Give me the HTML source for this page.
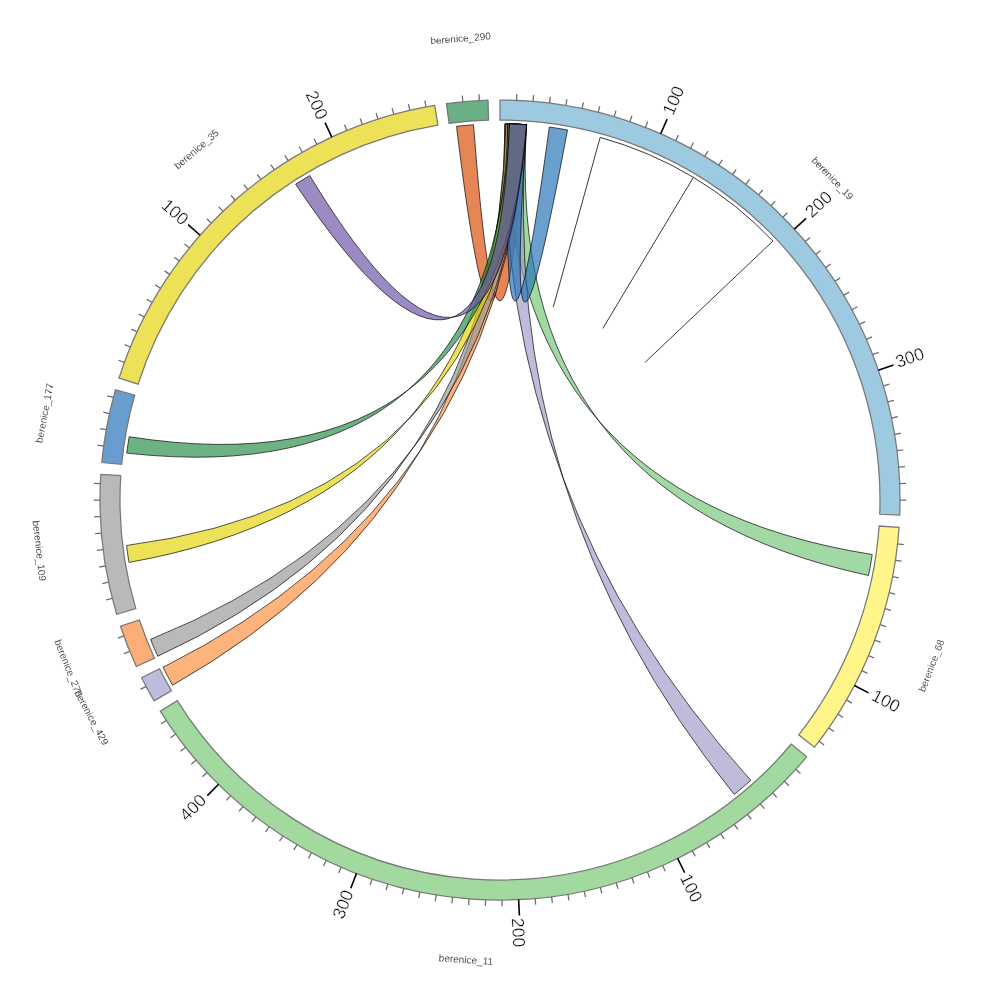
<!DOCTYPE html>
<html><head><meta charset="utf-8"><title>chord</title><style>html,body{margin:0;padding:0;background:#fff}svg{display:block}text{filter:grayscale(1)}</style></head><body>
<svg width="1000" height="1000" viewBox="0 0 1000 1000">
<rect width="1000" height="1000" fill="#fff"/>
<g>
<path d="M456.5 126.32 A376.2 376.2 0 0 1 473.56 124.73 Q499.98 477.1 525.91 124.69 A376.2 376.2 0 0 0 508.53 123.9 Q498.93 477.11 456.5 126.32 Z" fill="#d94801" fill-opacity="0.667" fill-rule="evenodd" stroke="#000" stroke-opacity="0.85" stroke-width="0.8" stroke-linejoin="miter"/>
<path d="M872.23 554.5 A376.2 376.2 0 0 1 868.54 575.52 Q503.98 496.98 526.5 124.73 A376.2 376.2 0 0 0 505.19 123.84 Q503.8 496.76 872.23 554.5 Z" fill="#74c476" fill-opacity="0.667" fill-rule="evenodd" stroke="#000" stroke-opacity="0.85" stroke-width="0.8" stroke-linejoin="miter"/>
<path d="M750.85 780.36 A376.2 376.2 0 0 1 734.19 794.42 Q497.14 500.89 526.5 124.73 A376.2 376.2 0 0 0 504.73 123.83 Q497.2 501.05 750.85 780.36 Z" fill="#9e9ac8" fill-opacity="0.667" fill-rule="evenodd" stroke="#000" stroke-opacity="0.85" stroke-width="0.8" stroke-linejoin="miter"/>
<path d="M172.54 685.19 A376.2 376.2 0 0 1 163.03 667.27 Q499.66 499.77 526.5 124.73 A376.2 376.2 0 0 0 505.25 123.84 Q499.62 499.77 172.54 685.19 Z" fill="#fd8d3c" fill-opacity="0.667" fill-rule="evenodd" stroke="#000" stroke-opacity="0.85" stroke-width="0.8" stroke-linejoin="miter"/>
<path d="M157.78 656.25 A376.2 376.2 0 0 1 150.56 639.34 Q498.91 499.21 526.5 124.73 A376.2 376.2 0 0 0 505.91 123.85 Q498.82 499.23 157.78 656.25 Z" fill="#969696" fill-opacity="0.667" fill-rule="evenodd" stroke="#000" stroke-opacity="0.85" stroke-width="0.8" stroke-linejoin="miter"/>
<path d="M549.3 127.04 A376.2 376.2 0 0 1 567.52 129.91 Q502.91 476.94 526.5 124.73 A376.2 376.2 0 0 0 507.48 123.87 Q501.76 476.84 549.3 127.04 Z" fill="#2171b5" fill-opacity="0.667" fill-rule="evenodd" stroke="#000" stroke-opacity="0.85" stroke-width="0.8" stroke-linejoin="miter"/>
<path d="M129.01 562.41 A376.2 376.2 0 0 1 126.56 545.52 Q496.89 497.04 526.64 124.74 A376.2 376.2 0 0 0 508.21 123.89 Q496.72 497.16 129.01 562.41 Z" fill="#e4d205" fill-opacity="0.667" fill-rule="evenodd" stroke="#000" stroke-opacity="0.85" stroke-width="0.8" stroke-linejoin="miter"/>
<path d="M126.73 453.11 A376.2 376.2 0 0 1 129.16 436.74 Q495.3 494.01 526.77 124.75 A376.2 376.2 0 0 0 509.39 123.92 Q495.01 494.2 126.73 453.11 Z" fill="#238b45" fill-opacity="0.667" fill-rule="evenodd" stroke="#000" stroke-opacity="0.85" stroke-width="0.8" stroke-linejoin="miter"/>
<path d="M295.6 184.17 A376.2 376.2 0 0 1 309.69 175.49 Q495.99 482.85 526.5 124.73 A376.2 376.2 0 0 0 509.52 123.92 Q495.22 483.03 295.6 184.17 Z" fill="#6a51a3" fill-opacity="0.667" fill-rule="evenodd" stroke="#000" stroke-opacity="0.85" stroke-width="0.8" stroke-linejoin="miter"/>
</g>
<g fill="none">
<line x1="600.17" y1="137.38" x2="553.25" y2="307.22" stroke="#18180a" stroke-width="0.85"/>
<line x1="693.41" y1="177.32" x2="602.82" y2="328.45" stroke="#18180a" stroke-width="0.85"/>
<line x1="772.92" y1="241.08" x2="645.09" y2="362.35" stroke="#0f1a26" stroke-width="0.85"/>
<path d="M600.17 137.38 A376.2 376.2 0 0 1 772.92 241.08" stroke="#222" stroke-width="0.9"/>
</g>
<path d="M500 100 A400 400 0 0 1 899.72 515.01 L879.73 514.26 A380 380 0 0 0 500 120 Z" fill="#9ecae1" stroke="#787878" stroke-width="1.25" stroke-linejoin="miter"/>
<path d="M899.06 527.42 A400 400 0 0 1 814.47 747.2 L798.75 734.84 A380 380 0 0 0 879.11 526.04 Z" fill="#fff588" stroke="#787878" stroke-width="1.25" stroke-linejoin="miter"/>
<path d="M806.64 756.85 A400 400 0 0 1 160.3 711.2 L177.29 700.64 A380 380 0 0 0 791.31 744.01 Z" fill="#a1d99f" stroke="#787878" stroke-width="1.25" stroke-linejoin="miter"/>
<path d="M154.11 700.91 A400 400 0 0 1 141.62 677.67 L159.54 668.78 A380 380 0 0 0 171.41 690.86 Z" fill="#bcbddc" stroke="#787878" stroke-width="1.25" stroke-linejoin="miter"/>
<path d="M136.31 666.51 A400 400 0 0 1 120.45 626.26 L139.43 619.95 A380 380 0 0 0 154.49 658.19 Z" fill="#fdae78" stroke="#787878" stroke-width="1.25" stroke-linejoin="miter"/>
<path d="M116.67 614.28 A400 400 0 0 1 100.82 474.33 L120.78 475.61 A380 380 0 0 0 135.84 608.56 Z" fill="#b9b9b9" stroke="#787878" stroke-width="1.25" stroke-linejoin="miter"/>
<path d="M101.76 462.5 A400 400 0 0 1 115.5 389.75 L134.72 395.26 A380 380 0 0 0 121.67 464.37 Z" fill="#699dcf" stroke="#787878" stroke-width="1.25" stroke-linejoin="miter"/>
<path d="M119.04 378.05 A400 400 0 0 1 434.67 105.37 L437.94 125.1 A380 380 0 0 0 138.09 384.15 Z" fill="#ede158" stroke="#787878" stroke-width="1.25" stroke-linejoin="miter"/>
<path d="M446.41 103.61 A400 400 0 0 1 487.99 100.18 L488.59 120.17 A380 380 0 0 0 449.09 123.43 Z" fill="#6bb085" stroke="#787878" stroke-width="1.25" stroke-linejoin="miter"/>
<path d="M516.53 100.34L516.79 94.05M533.04 101.37L533.56 95.09M549.49 103.07L550.27 96.82M565.85 105.46L566.89 99.24M582.11 108.52L583.4 102.35M598.22 112.25L599.76 106.14M614.16 116.64L615.96 110.6M629.91 121.68L631.96 115.73M645.44 127.38L647.73 121.51M675.72 140.66L678.49 135M690.42 148.23L693.42 142.69M704.8 156.41L708.02 150.99M718.83 165.16L722.27 159.89M732.48 174.5L736.14 169.37M745.74 184.38L749.61 179.41M758.57 194.81L762.64 190M770.97 205.76L775.23 201.13M782.9 217.21L787.35 212.76M805.29 241.55L810.1 237.47M815.71 254.39L820.68 250.52M825.59 267.64L830.72 263.99M834.92 281.3L840.19 277.86M843.67 295.33L849.09 292.11M851.84 309.71L857.38 306.72M859.4 324.42L865.06 321.65M866.35 339.43L872.12 336.9M872.68 354.71L878.55 352.42M883.41 385.99L889.45 384.19M887.79 401.93L893.9 400.39M891.51 418.04L897.68 416.75M894.57 434.3L900.78 433.26M896.95 450.66L903.2 449.89M898.65 467.11L904.92 466.6M899.66 483.62L905.96 483.36M900 500.15L906.3 500.16M897.59 543.89L903.85 544.58M895.43 560.28L901.66 561.23M892.6 576.58L898.78 577.78M889.1 592.74L895.23 594.2M884.93 608.74L891 610.46M880.11 624.56L886.1 626.52M874.64 640.17L880.54 642.38M868.52 655.53L874.33 657.98M861.78 670.63L867.48 673.32M846.45 699.93L851.91 703.08M837.89 714.08L843.21 717.45M828.75 727.87L833.93 731.46M819.05 741.26L824.08 745.06M795.76 769.3L800.42 773.54M784.38 781.3L788.86 785.73M772.51 792.81L776.8 797.42M760.17 803.83L764.27 808.61M747.39 814.32L751.29 819.27M734.19 824.28L737.88 829.39M720.58 833.68L724.06 838.94M706.6 842.51L709.86 847.91M692.27 850.76L695.3 856.29M662.64 865.44L665.2 871.2M647.39 871.85L649.71 877.71M631.9 877.63L633.97 883.58M616.17 882.76L618 888.79M600.25 887.23L601.83 893.33M584.16 891.05L585.49 897.2M567.93 894.19L569 900.4M551.57 896.66L552.39 902.91M535.13 898.45L535.69 904.73M502.1 899.99L502.13 906.29M485.57 899.74L485.34 906.04M469.05 898.8L468.57 905.08M452.6 897.18L451.85 903.44M436.22 894.88L435.22 901.1M419.95 891.91L418.69 898.08M403.82 888.26L402.31 894.38M387.85 883.96L386.09 890M372.08 878.99L370.06 884.96M341.21 867.13L338.71 872.91M326.17 860.26L323.43 865.93M311.43 852.76L308.46 858.32M297.01 844.67L293.81 850.09M282.94 835.98L279.52 841.27M269.23 826.72L265.6 831.87M255.93 816.9L252.08 821.89M243.03 806.54L238.99 811.37M230.58 795.66L226.34 800.32M207.08 772.4L202.47 776.69M196.07 760.06L191.29 764.15M185.58 747.27L180.63 751.16M175.63 734.06L170.52 737.75M166.23 720.45L160.98 723.93M146.11 686.44L140.53 689.37M129.73 651.34L123.9 653.72M123.79 635.9L117.87 638.04M112.28 598.33L106.17 599.88M108.54 582.22L102.38 583.52M105.48 565.97L99.26 567.01M103.09 549.61L96.84 550.39M101.38 533.16L95.1 533.68M100.35 516.65L94.05 516.91M100 500.12L93.7 500.12M100.34 483.58L94.04 483.33M103.65 446.07L97.41 445.22M106.22 429.73L100.02 428.62M109.46 413.51L103.31 412.15M113.37 397.44L107.28 395.83M124.41 362.41L118.49 360.24M130.42 347L124.6 344.59M137.06 331.86L131.34 329.21M144.32 317L138.71 314.12M152.18 302.45L146.71 299.34M160.65 288.25L155.3 284.91M169.69 274.4L164.49 270.85M179.3 260.94L174.25 257.17M189.45 247.89L184.56 243.92M211.34 223.1L206.79 218.74M223.03 211.4L218.67 206.86M235.2 200.2L231.03 195.48M247.82 189.51L243.84 184.62M260.87 179.35L257.1 174.3M274.32 169.74L270.77 164.54M288.17 160.7L284.83 155.35M302.37 152.23L299.26 146.75M316.92 144.36L314.04 138.76M346.92 130.45L344.51 124.63M362.33 124.44L360.16 118.52M377.97 119.07L376.05 113.07M393.82 114.35L392.15 108.28M409.85 110.29L408.43 104.15M426.04 106.9L424.87 100.71M462.84 101.73L462.25 95.46M479.33 100.53L479.01 94.24" stroke="#6e6e6e" stroke-width="1.3" fill="none"/>
<path d="M660.72 133.71L667.14 119.06M794.34 229.15L806.12 218.31M878.37 370.23L893.5 365.04M854.42 685.44L868.59 692.86M677.6 858.41L684.71 872.75M518.63 899.57L519.38 915.55M356.52 873.38L350.78 888.32M218.59 784.27L207.34 795.64M200.14 235.27L188.15 224.68M331.78 137.09L325.05 122.58" stroke="#000" stroke-width="1.6" fill="none"/>
<g font-family="Liberation Sans, sans-serif" font-size="17.5" fill="#000" stroke="#fff" stroke-width="0.35" paint-order="fill stroke">
<text x="673.16" y="100.33" text-anchor="middle" transform="rotate(-66.31 673.16 100.33)" dy="6.26">100</text>
<text x="818.38" y="204.05" text-anchor="middle" transform="rotate(-42.62 818.38 204.05)" dy="6.26">200</text>
<text x="909.69" y="357.38" text-anchor="middle" transform="rotate(-18.93 909.69 357.38)" dy="6.26">300</text>
<text x="886.16" y="700.63" text-anchor="middle" transform="rotate(27.62 886.16 700.63)" dy="6.26">100</text>
<text x="691.51" y="887.9" text-anchor="middle" transform="rotate(63.64 691.51 887.9)" dy="6.26">100</text>
<text x="518.75" y="932.63" text-anchor="middle" transform="rotate(87.33 518.75 932.63)" dy="6.26">200</text>
<text x="342.58" y="904.17" text-anchor="middle" transform="rotate(-68.98 342.58 904.17)" dy="6.26">300</text>
<text x="192.68" y="807.33" text-anchor="middle" transform="rotate(-45.29 192.68 807.33)" dy="6.26">400</text>
<text x="175.23" y="211.8" text-anchor="middle" transform="rotate(41.44 175.23 211.8)" dy="6.26">100</text>
<text x="317.18" y="104.91" text-anchor="middle" transform="rotate(65.13 317.18 104.91)" dy="6.26">200</text>
</g>
<g font-family="Liberation Sans, sans-serif" font-size="10" fill="#111" stroke="#fff" stroke-width="0.15" paint-order="fill stroke" text-anchor="middle">
<text x="832.55" y="178.3" transform="rotate(46.08 832.55 178.3)" dy="3.5">berenice_19</text>
<text x="931.47" y="665.64" transform="rotate(-68.95 931.47 665.64)" dy="3.5">berenice_68</text>
<text x="465.95" y="959.65" transform="rotate(4.04 465.95 959.65)" dy="3.5">berenice_11</text>
<text x="91.57" y="717.54" transform="rotate(61.74 91.57 717.54)" dy="3.5">berenice_429</text>
<text x="68.65" y="668.12" transform="rotate(68.5 68.65 668.12)" dy="3.5">berenice_278</text>
<text x="39.43" y="550.78" transform="rotate(83.54 39.43 550.78)" dy="3.5">berenice_109</text>
<text x="44.52" y="413.1" transform="rotate(-79.31 44.52 413.1)" dy="3.5">berenice_177</text>
<text x="196.47" y="149.2" transform="rotate(-40.82 196.47 149.2)" dy="3.5">berenice_35</text>
<text x="460.56" y="38.36" transform="rotate(-4.71 460.56 38.36)" dy="3.5">berenice_290</text>
</g>
</svg>
</body></html>
